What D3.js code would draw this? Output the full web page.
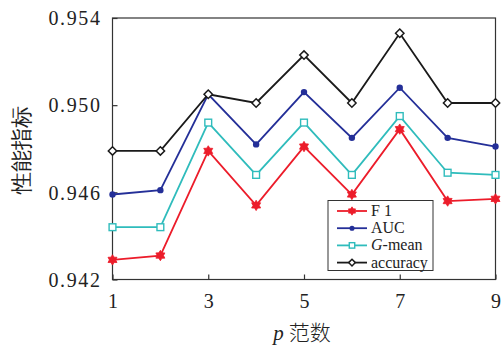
<!DOCTYPE html>
<html>
<head>
<meta charset="utf-8">
<script src="https://cdn.jsdelivr.net/npm/d3@7"></script>
<style>
body { margin: 0; background: #fff; }
svg text { font-family: "Liberation Serif", "Times New Roman", serif; fill: #222; }
</style>
</head>
<body>
<svg id="chart" width="501" height="347"></svg>
<script>
// p 范数
var pValues = [1, 2, 3, 4, 5, 6, 7, 8, 9]
var xTicks = [1, 3, 5, 7, 9]
var yTicks = [0.942, 0.946, 0.950, 0.954]

var f1 = [0.9429, 0.9431, 0.9479, 0.9454, 0.9481, 0.9459, 0.9489, 0.9456, 0.9457]
var auc = [0.9459, 0.9461, 0.9505, 0.9482, 0.9506, 0.9485, 0.9508, 0.9485, 0.9481]
var gmean = [0.9444, 0.9444, 0.9492, 0.9468, 0.9492, 0.9468, 0.9495, 0.9469, 0.9468]
var accuracy = [0.9479, 0.9479, 0.9505, 0.9501, 0.9523, 0.9501, 0.9533, 0.9501, 0.9501]

var seriesNames = ['F1', 'AUC', 'G-mean', 'accuracy']
var seriesColors = ['#ec1c2a', '#242f98', '#2fbcbc', '#1a1a1a']
var seriesMarkers = ['star', 'circle', 'square', 'diamond']
var seriesData = [f1, auc, gmean, accuracy]

;(function () {
var svg = d3.select('#chart')
var pLeft = 112.5, pRight = 495.5, pTop = 18, pBottom = 279.5

var x = d3.scaleLinear().domain([1, 9]).range([pLeft, pRight])
var y = d3.scaleLinear().domain([0.942, 0.954]).range([pBottom, pTop])

// frame
svg.append('rect')
    .attr('x', pLeft).attr('y', pTop)
    .attr('width', pRight - pLeft).attr('height', pBottom - pTop)
    .attr('fill', 'none').attr('stroke', '#333').attr('stroke-width', 1.2)

// axes (ticks inward)
var xAxis = svg.append('g').attr('transform', 'translate(0,' + pBottom + ')')
    .call(d3.axisBottom(x).tickValues(xTicks).tickSize(-5).tickPadding(14).tickFormat(d3.format('d')))
var yAxis = svg.append('g').attr('transform', 'translate(' + pLeft + ',0)')
    .call(d3.axisLeft(y).tickValues(yTicks).tickSize(-5).tickPadding(11).tickFormat(d3.format('.3f')))

;[xAxis, yAxis].forEach(function (a) {
    a.select('.domain').remove()
    a.selectAll('line').attr('stroke', '#333').attr('stroke-width', 1.2)
    a.selectAll('text').attr('font-size', 20).attr('fill', '#2a2a2a')
        .attr('font-family', '"Liberation Serif", serif')
})
yAxis.selectAll('text').attr('dy', '0.34em').attr('letter-spacing', 1.6)

function drawMarker(g, type, color, cx, cy, s) {
    s = s || 1
    if (type == 'circle') {
        g.append('circle').attr('cx', cx).attr('cy', cy).attr('r', 3.2 * s).attr('fill', color)
    } else if (type == 'square') {
        var h = 3.4 * s
        g.append('rect').attr('x', cx - h).attr('y', cy - h).attr('width', 2 * h).attr('height', 2 * h)
            .attr('fill', '#fff').attr('stroke', color).attr('stroke-width', 1.4)
    } else if (type == 'diamond') {
        var d = 4.2 * s
        g.append('path').attr('d', 'M' + cx + ',' + (cy - d) + 'L' + (cx + d) + ',' + cy +
            'L' + cx + ',' + (cy + d) + 'L' + (cx - d) + ',' + cy + 'Z')
            .attr('fill', '#fff').attr('stroke', color).attr('stroke-width', 1.5)
    } else if (type == 'star') {
        // hexagram
        var r = 5.2 * s, pts = []
        for (var i = 0; i < 12; i++) {
            var ang = -Math.PI / 2 + i * Math.PI / 6
            var rr = i % 2 == 0 ? r : r * 0.6
            pts.push([cx + rr * Math.cos(ang), cy + rr * Math.sin(ang)])
        }
        g.append('path').attr('d', 'M' + pts.join('L') + 'Z')
            .attr('fill', color).attr('stroke', color).attr('stroke-width', 0.8)
    }
}

var line = d3.line().x(function (d, i) { return x(pValues[i]) }).y(function (d) { return y(d) })

seriesData.forEach(function (data, k) {
    var g = svg.append('g')
    g.append('path').datum(data).attr('d', line)
        .attr('fill', 'none').attr('stroke', seriesColors[k]).attr('stroke-width', 1.8)
    data.forEach(function (v, i) {
        drawMarker(g, seriesMarkers[k], seriesColors[k], x(pValues[i]), y(v))
    })
})

// legend
var lg = svg.append('g')
lg.append('rect').attr('x', 328).attr('y', 200.5).attr('width', 105).attr('height', 70)
    .attr('fill', '#fff').attr('stroke', '#333').attr('stroke-width', 1)
seriesNames.forEach(function (name, k) {
    var ly = 211 + k * 17.2
    lg.append('line').attr('x1', 337).attr('x2', 367).attr('y1', ly).attr('y2', ly)
        .attr('stroke', seriesColors[k]).attr('stroke-width', 1.8)
    drawMarker(lg, seriesMarkers[k], seriesColors[k], 352, ly, 0.8)
    var t = lg.append('text').attr('x', 371).attr('y', ly + 5).attr('font-size', 16)
    if (name == 'G-mean') {
        t.append('tspan').attr('font-style', 'italic').text('G')
        t.append('tspan').text('-mean')
    } else if (name == 'F1') {
        t.text('F 1')
    } else {
        t.text(name)
    }
})

// axis titles
var xt = svg.append('text').attr('x', 302).attr('y', 340).attr('text-anchor', 'middle').attr('font-size', 21)
xt.append('tspan').attr('font-style', 'italic').text('p')
xt.append('tspan').attr('font-family', '"Noto Sans CJK SC", sans-serif').attr('font-weight', 300).attr('dx', 5).text('范数')

svg.append('text')
    .attr('transform', 'translate(29,150) rotate(-90)')
    .attr('text-anchor', 'middle')
    .attr('font-size', 22)
    .attr('font-family', '"Noto Sans CJK SC", sans-serif')
    .attr('font-weight', 300)
    .text('性能指标')
})()
</script>
</body>
</html>
